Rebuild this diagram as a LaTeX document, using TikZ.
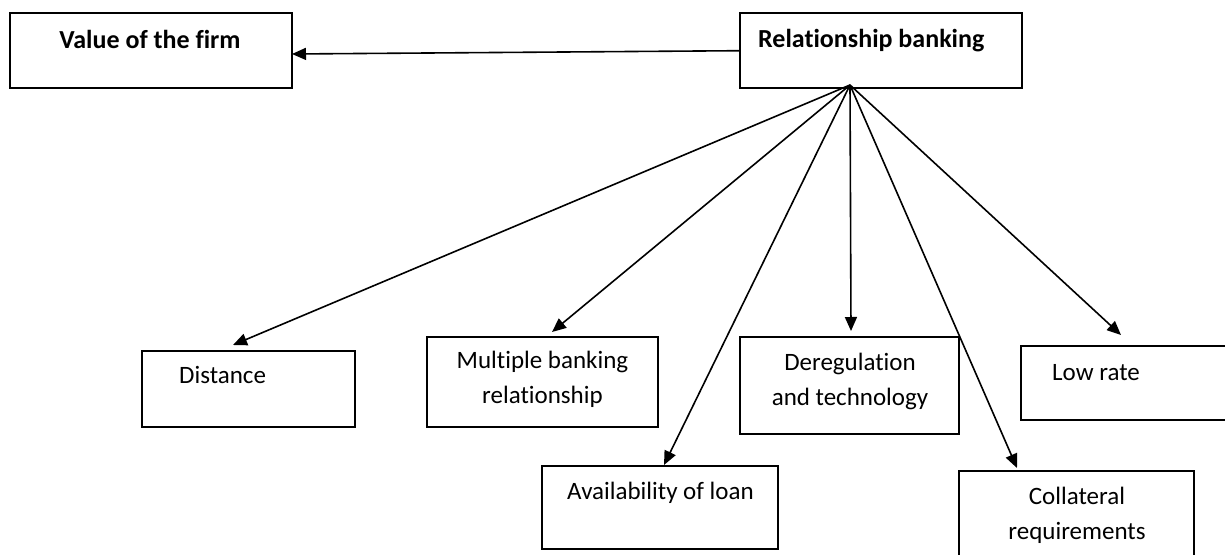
\documentclass[tikz,border=0pt]{standalone}
\usepackage{fontspec}
\setmainfont{Carlito}[Ligatures={NoCommon}]
\usetikzlibrary{arrows.meta}
\begin{document}
\begin{tikzpicture}[x=1pt,y=-1pt,
  box/.style={draw=black,line width=1.3pt,minimum width=#1,inner sep=0pt},
  txt/.style={font=\fontsize{25}{35}\selectfont,inner sep=0pt,align=center},
  btxt/.style={font=\fontsize{26}{35}\selectfont\bfseries,inner sep=0pt,align=center},
  arr/.style={draw=black,line width=1.6pt,-{Triangle[length=14pt,width=12pt]}}]
\clip (0,0) rectangle (1225,554);
\fill[white] (0,0) rectangle (1225,554);
% boxes
\node[box=282pt,minimum height=75pt] (vf) at (151,50.5) {};
\node[box=282pt,minimum height=75pt] (rb) at (881,50.5) {};
\node[box=213pt,minimum height=76pt] (dist) at (248.5,389) {};
\node[box=231pt,minimum height=90pt] (mult) at (542.5,382) {};
\node[box=236pt,minimum height=83pt] (avail) at (660,507.5) {};
\node[box=219pt,minimum height=97pt] (dereg) at (849.5,385.5) {};
\node[box=220pt,minimum height=74pt] (low) at (1131,383) {};
\node[box=235pt,minimum height=110pt] (coll) at (1076.5,526) {};
% texts
\node[btxt,anchor=base] (vft) at (150,48) {Value of the firm};
\node[btxt,anchor=base west] (rbt) at (758,47) {Relationship banking};
\node[txt,anchor=base west] (distt) at (179,383) {Distance};
\node[txt,anchor=base] (multt) at (542.5,403) {Multiple banking\\relationship};
\node[txt,anchor=base] (availt) at (660.5,499) {Availability of loan};
\node[txt,anchor=base] (deregt) at (850,405) {Deregulation\\and technology};
\node[txt,anchor=base west] (lowt) at (1052,380) {Low rate};
\node[txt,anchor=base] (collt) at (1077,539) {Collateral\\requirements};
% connector points
\coordinate (src) at (850,85);
\coordinate (vfin) at (292,54);
\coordinate (rbout) at (740,50.7);
\coordinate (tdist) at (233,345);
\coordinate (tmult) at (552,332);
\coordinate (tavail) at (664,465);
\coordinate (tdereg) at (851,331);
\coordinate (tcoll) at (1017,468);
\coordinate (tlow) at (1121,335);
% connectors
\draw[arr] (rbout) -- (vfin);
\draw[arr] (src) -- (tdist);
\draw[arr] (src) -- (tmult);
\draw[arr] (src) -- (tavail);
\draw[arr] (src) -- (tdereg);
\draw[arr] (src) -- (tcoll);
\draw[arr] (src) -- (tlow);
\end{tikzpicture}
\end{document}
